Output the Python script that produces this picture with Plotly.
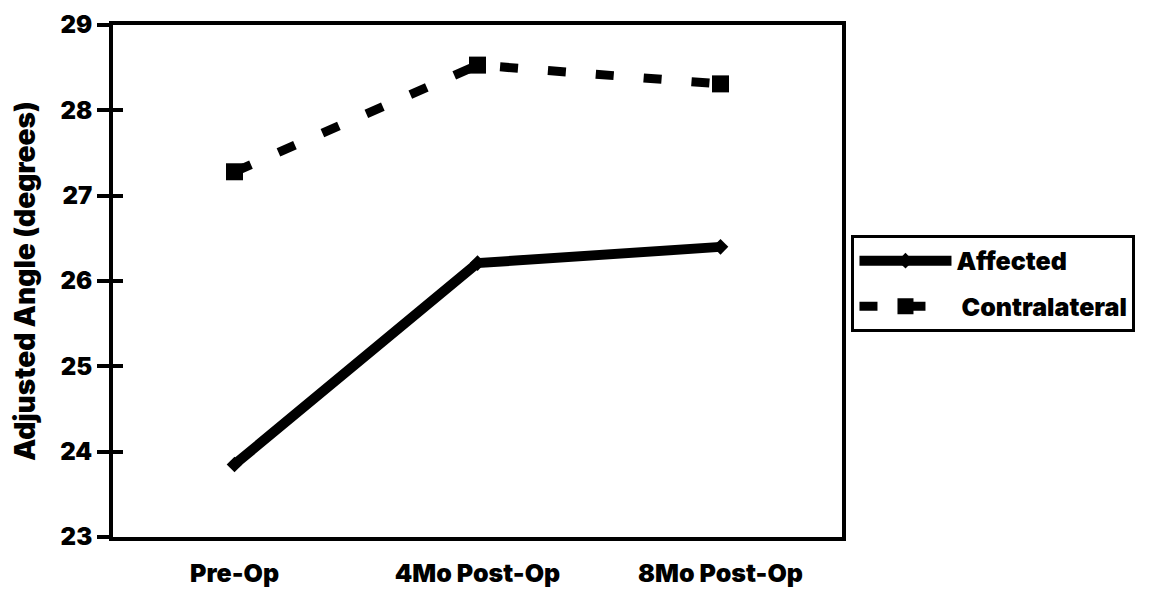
import plotly.graph_objects as go

# Measurement timepoints and mean adjusted angles (degrees)
timepoints = ["Pre-Op", "4Mo Post-Op", "8Mo Post-Op"]
affected = [23.85, 26.21, 26.40]
contralateral = [27.28, 28.53, 28.31]
y_ticks = [23, 24, 25, 26, 27, 28, 29]

FONT = "Inter, Liberation Sans, Arial, sans-serif"
INK = "black"
HEAVY = 900

fig = go.Figure()

fig.add_trace(go.Scatter(
    x=timepoints, y=affected, name="Affected", legendgroup="a",
    mode="lines+markers",
    line=dict(color=INK, width=10),
    marker=dict(symbol="diamond", size=12, color=INK),
))
fig.add_trace(go.Scatter(
    x=timepoints, y=contralateral, name=" Contralateral", legendgroup="c",
    mode="lines+markers",
    line=dict(color=INK, width=9, dash="18px,30px"),
    marker=dict(symbol="square", size=17, color=INK),
))

fig.update_layout(
    width=1160, height=590,
    margin=dict(l=113, r=318, t=25, b=53, autoexpand=False),
    paper_bgcolor="white", plot_bgcolor="white",
    font=dict(family=FONT, color=INK, size=22, weight=HEAVY),
    showlegend=True,
    legend=dict(
        x=1.013, y=0.59, xanchor="left", yanchor="top",
        bordercolor=INK, borderwidth=3,
        font=dict(family=FONT, size=25, color=INK, weight=HEAVY),
        itemwidth=92, tracegroupgap=10, traceorder="grouped",
        bgcolor="white",
    ),
    xaxis=dict(
        type="category", range=[-0.5, 2.5], automargin=False,
        showgrid=False, zeroline=False,
        showline=True, linecolor=INK, linewidth=4, mirror=True,
        ticks="", ticklabelstandoff=11,
        tickfont=dict(family=FONT, size=25, color=INK, weight=HEAVY),
    ),
    yaxis=dict(
        range=[23, 29], automargin=False, tickvals=y_ticks,
        showgrid=False, zeroline=False,
        showline=True, linecolor=INK, linewidth=4, mirror=True,
        ticks="outside", ticklen=12, tickwidth=4, tickcolor=INK,
        tickfont=dict(family=FONT, size=24, color=INK, weight=HEAVY),
        title=dict(text="Adjusted Angle (degrees)", standoff=17,
                   font=dict(family=FONT, size=28, color=INK, weight=HEAVY)),
    ),
    # inner half of the crossing tick marks
    yaxis2=dict(
        range=[23, 29], tickvals=y_ticks, overlaying="y", side="left",
        showgrid=False, zeroline=False, showline=False,
        ticks="inside", ticklen=10, tickwidth=4, tickcolor=INK,
        showticklabels=False,
    ),
)

# invisible trace to activate the overlay axis carrying the inner ticks
fig.add_trace(go.Scatter(x=timepoints, y=affected, yaxis="y2",
                         mode="lines", line=dict(width=0),
                         showlegend=False, hoverinfo="skip"))

fig.write_html("out.html")
